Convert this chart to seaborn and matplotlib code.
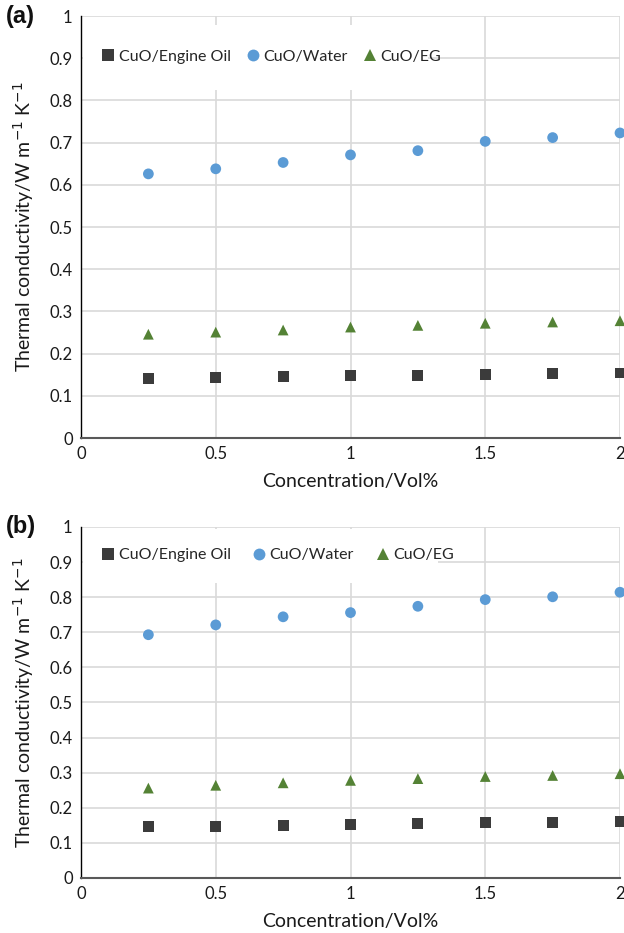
import numpy as np
import pandas as pd
import matplotlib
matplotlib.use("Agg")
import matplotlib.pyplot as plt
from matplotlib.patches import Rectangle
from matplotlib.ticker import FuncFormatter, MultipleLocator
import seaborn as sns

# concentration (vol%)
conc = [0.25, 0.5, 0.75, 1.0, 1.25, 1.5, 1.75, 2.0]

# panel (a)
a_oil = [0.141, 0.143, 0.145, 0.148, 0.149, 0.151, 0.153, 0.154]
a_water = [0.626, 0.638, 0.653, 0.671, 0.681, 0.703, 0.712, 0.723]
a_eg = [0.246, 0.251, 0.256, 0.263, 0.267, 0.272, 0.275, 0.278]

# panel (b)
b_oil = [0.146, 0.147, 0.150, 0.152, 0.156, 0.157, 0.159, 0.160]
b_water = [0.693, 0.721, 0.744, 0.756, 0.774, 0.793, 0.801, 0.814]
b_eg = [0.256, 0.264, 0.271, 0.278, 0.283, 0.289, 0.292, 0.297]

series = ["CuO/Engine Oil", "CuO/Water", "CuO/EG"]
colors = {"CuO/Engine Oil": "#3b3b3b", "CuO/Water": "#5b9bd5", "CuO/EG": "#548235"}
markers = {"CuO/Engine Oil": "s", "CuO/Water": "o", "CuO/EG": "^"}

sns.set_style("white")
plt.rcParams["font.family"] = ["Lato", "DejaVu Sans"]

fig = plt.figure(figsize=(6.24, 9.33), dpi=100)
ax_a = fig.add_axes([0.1298, 0.5305, 0.8638, 0.4523])
ax_b = fig.add_axes([0.1298, 0.0590, 0.8638, 0.3762])


def make_df(oil, water, eg):
    rows = []
    for name, vals in zip(series, [oil, water, eg]):
        for x, v in zip(conc, vals):
            rows.append({"conc": x, "k": v, "fluid": name})
    return pd.DataFrame(rows)


fmt = FuncFormatter(lambda v, p: f"{v:g}")

# (axes, data, tag, legend centre y, white box y-range, box width, column spacing)
panels = [
    (ax_a, (a_oil, a_water, a_eg), "(a)", 0.903, (0.825, 0.979), 0.64, 0.9),
    (ax_b, (b_oil, b_water, b_eg), "(b)", 0.92, (0.84, 0.995), 0.66, 1.3),
]

for ax, data, tag, ly, (y0, y1), bw, csp in panels:
    df = make_df(*data)
    sns.scatterplot(data=df, x="conc", y="k", hue="fluid", style="fluid",
                    palette=colors, markers=markers, hue_order=series,
                    style_order=series, s=60, linewidth=0, ax=ax,
                    zorder=3, clip_on=False)
    ax.set_xlim(0, 2)
    ax.set_ylim(0, 1)
    ax.xaxis.set_major_locator(MultipleLocator(0.5))
    ax.yaxis.set_major_locator(MultipleLocator(0.1))
    ax.xaxis.set_major_formatter(fmt)
    ax.yaxis.set_major_formatter(fmt)
    ax.grid(True, color="#d9d9d9", linewidth=1.2, zorder=0)
    ax.set_axisbelow(True)
    for s in ["top", "right"]:
        ax.spines[s].set_visible(False)
    ax.spines["left"].set_color("#000000")
    ax.spines["left"].set_linewidth(1.0)
    ax.spines["bottom"].set_color("#595959")
    ax.spines["bottom"].set_linewidth(1.5)
    ax.tick_params(axis="both", length=0, labelsize=12, colors="#1a1a1a", pad=6)
    ax.set_xlabel("Concentration/Vol%", fontsize=14, color="#1a1a1a", labelpad=8)
    ax.set_ylabel("Thermal conductivity/W m$^{-1}$ K$^{-1}$", fontsize=14,
                  color="#1a1a1a", labelpad=10)

    # white box behind the legend hides the grid like the original
    ax.add_patch(Rectangle((0.003, y0), bw, y1 - y0, transform=ax.transAxes,
                           facecolor="white", edgecolor="none", zorder=1))
    leg = ax.legend(loc="center left", bbox_to_anchor=(0.0, ly), ncol=3,
                    frameon=False, fontsize=11.5, handletextpad=0.15,
                    columnspacing=csp, borderpad=0.0, handlelength=1.0,
                    borderaxespad=1.2, markerscale=1.1)
    leg.set_zorder(5)
    ax.text(-0.139, 1.0, tag, transform=ax.transAxes, fontsize=17,
            fontweight="bold", ha="left", va="center", color="#111111",
            family=["Liberation Sans", "DejaVu Sans"])

fig.savefig("out.png", dpi=100)
